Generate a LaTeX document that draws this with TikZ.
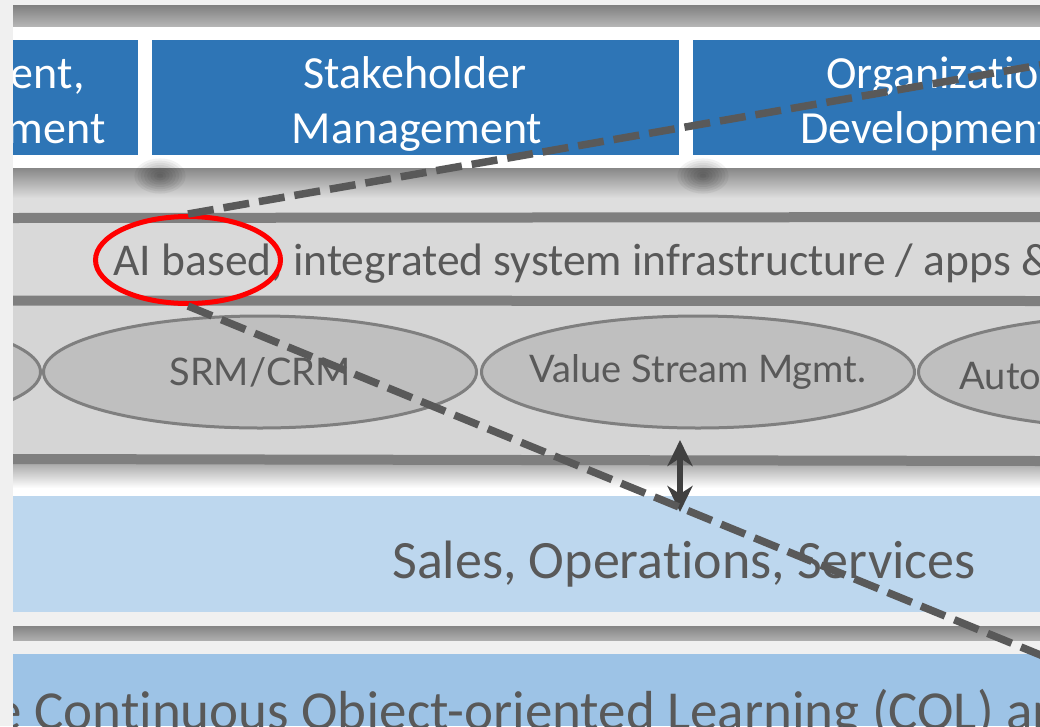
\documentclass[tikz,border=0pt]{standalone}
\usepackage{fontspec}
\setmainfont{Carlito}[Ligatures={NoCommon,NoContextual},Contextuals={NoAlternate}]
\newfontfamily\latofont{Lato}[Ligatures=NoCommon]
\usetikzlibrary{shapes.geometric,arrows.meta}

\definecolor{boxblue}{HTML}{2E75B6}
\definecolor{salesblue}{HTML}{BDD7EE}
\definecolor{colblue}{HTML}{9DC3E6}
\definecolor{bandgray}{HTML}{D9D9D9}
\definecolor{rowgray}{HTML}{D5D5D5}
\definecolor{railgray}{HTML}{7F7F7F}
\definecolor{ovalgray}{HTML}{BFBFBF}
\definecolor{textgray}{HTML}{595959}
\definecolor{stripgray}{HTML}{F0F0F0}
\definecolor{arrowgray}{HTML}{404040}

\tikzset{
  bluebox/.style={fill=boxblue, inner sep=0pt, minimum height=115pt},
  boxtext/.style={text=white, font=\fontsize{46}{55}\selectfont},
  oval/.style={ellipse, draw=railgray, line width=3pt, fill=ovalgray,
    minimum width=433pt, minimum height=112pt, inner xsep=-60pt, inner ysep=0pt,
    font=\latofont\fontsize{38}{44}\selectfont, text=textgray},
  rail/.style={railgray, line width=10pt},
  callout/.style={textgray, line width=7.5pt, dash pattern=on 26pt off 10pt},
}

\begin{document}
\begin{tikzpicture}[x=1pt,y=-1pt]
  \useasboundingbox (0,0) rectangle (1040,726);
  \fill[stripgray] (0,0) rectangle (1040,726);
  \begin{scope}
    \clip (13,5) rectangle (1040,726);
    % top band and white frame
    \shade[top color=black!50, bottom color=black!28] (13,5) rectangle (1040,27);
    \fill[white] (13,27) rectangle (1040,168);
    % shadowed gap under the boxes
    \shade[top color=black!47, bottom color=black!13] (13,168) rectangle (1040,198);
    \fill[black!13] (13,198) rectangle (1040,222);
    \fill[bandgray] (13,222) rectangle (1040,300);
    \foreach \x in {160,703}
      \foreach \r in {1,...,8}
        \fill[black, opacity=0.05] (\x,176) ellipse ({3.2*\r} and {2.2*\r});
    % row of ovals
    \fill[rowgray] (13,300) rectangle (1040,460);
    \shade[top color=black!38, bottom color=white] (13,460) rectangle (1040,488);
    \fill[white] (13,488) rectangle (1040,496);
    \draw[rail] (13,218) -- (1040,217);
    \draw[rail] (13,300.5) -- (1040,301);
    \draw[rail] (13,459) -- (1040,461);

    % blue boxes
    \node[bluebox, minimum width=300pt] (plan) at (-12,97.5) {};
    \node[boxtext, anchor=base east] (plantop) at (88,88) {ent,};
    \node[boxtext, anchor=base east] (planbot) at (109,143) {ment};
    \node[bluebox, minimum width=527pt] (stake) at (415.5,97.5) {};
    \node[boxtext, anchor=base] (staketop) at (415,88) {Stakeholder};
    \node[boxtext, anchor=base] (stakebot) at (417,143) {Management};
    \node[bluebox, minimum width=500pt] (orga) at (943,97.5) {};
    \node[boxtext, anchor=base west] (orgatop) at (823,88) {Organization};
    \node[boxtext, anchor=base west] (orgabot) at (797,143) {Development};

    % infrastructure line
    \node[anchor=base west, text=textgray, font=\fontsize{45.5}{50}\selectfont] (infra) at (110,275)
      {AI based, integrated system infrastructure / apps \&};

    % ovals
    \node[oval] (left) at (-176,372) {};
    \node[oval] (srm) at (260,372) {\raisebox{-3pt}{SRM/CRM}};
    \node[oval] (vsm) at (698,372) {\raisebox{-3pt}{Value Stream Mgmt.}};
    \node[oval] (auto) at (1135,372) {};
    \node[anchor=west, text=textgray, font=\latofont\fontsize{38}{44}\selectfont] (autotext) at (956,376) {Auto};

    % sales band
    \fill[salesblue] (13,496) rectangle (1040,612);
    \node[anchor=base, text=textgray, font=\fontsize{54}{60}\selectfont] (sales) at (684,578) {Sales, Operations, Services};
    \shade[top color=black!48, bottom color=black!32] (13,626) rectangle (1040,640);
    \fill[colblue] (13,654) rectangle (1040,726);
    \node[anchor=base west, text=textgray, font=\fontsize{55}{60}\selectfont] (col) at (-9,729)
      {e Continuous Object-oriented Learning (COL) an};

    % link between layers
    \coordinate (vsmlow) at (680,440);
    \coordinate (salestop) at (680,512);
    \draw[{Stealth[length=26pt,width=25pt,inset=8pt]}-{Stealth[length=26pt,width=25pt,inset=8pt]},
      arrowgray, line width=5.5pt] (vsmlow) -- (salestop);

    % highlight with callout lines
    \node[ellipse, draw=red, line width=5pt, minimum width=185pt, minimum height=87pt, inner sep=0pt]
      (ai) at (188,260) {};
    \coordinate (calltop) at (1060,61.5);
    \coordinate (callbot) at (1060,663);
    \draw[callout] (ai.north) -- (calltop);
    \draw[callout] (ai.south) -- (callbot);
  \end{scope}
\end{tikzpicture}
\end{document}
